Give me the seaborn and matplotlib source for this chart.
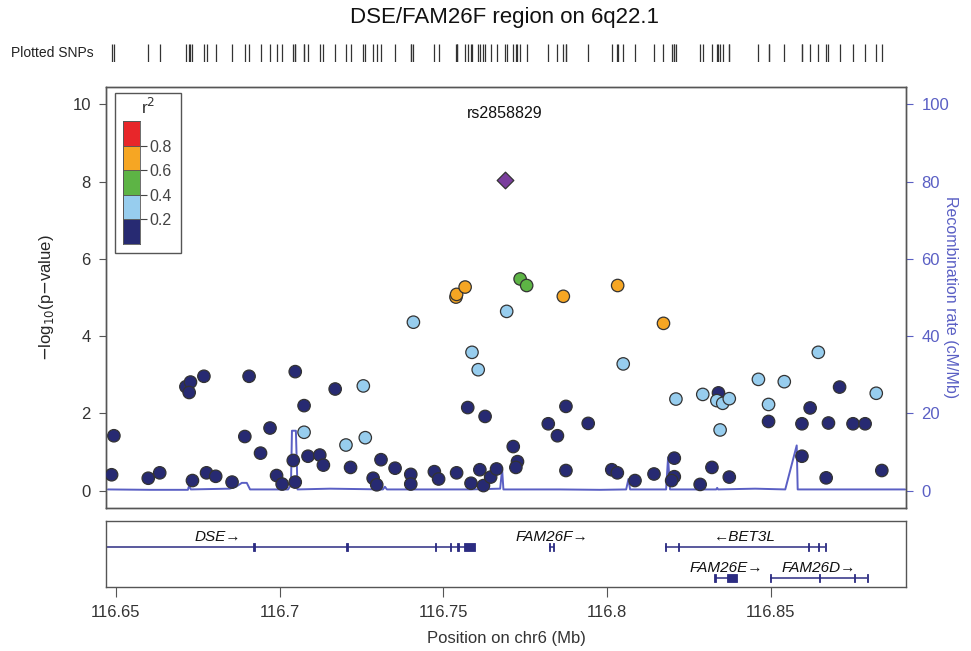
import numpy as np
import pandas as pd
import matplotlib
matplotlib.use('Agg')
import matplotlib.pyplot as plt
import seaborn as sns
from matplotlib.patches import Rectangle

sns.set_style('white')
plt.rcParams['font.family'] = ['Liberation Sans', 'DejaVu Sans']
plt.rcParams['axes.edgecolor'] = '#555555'

# ---- SNP association data (position in Mb, -log10 p, r2 bin) ----
snp_pos = [116.6494, 116.6487, 116.6599, 116.6634, 116.6714, 116.6728, 116.6724, 116.6769,
           116.6734, 116.6777, 116.6805, 116.6855, 116.6894, 116.6907, 116.6942, 116.6971,
           116.6991, 116.7008, 116.7042, 116.7048, 116.7048, 116.7075, 116.7075, 116.7087,
           116.7123, 116.7134, 116.7170, 116.7217, 116.7203, 116.7256, 116.7262, 116.7310,
           116.7286, 116.7297, 116.7353, 116.7409, 116.7401, 116.7401, 116.7473, 116.7486,
           116.7541, 116.7575, 116.7588, 116.7607, 116.7628, 116.7585, 116.7612, 116.7623,
           116.7645, 116.7663, 116.7539, 116.7541, 116.7567, 116.7735, 116.7755, 116.7867,
           116.8033, 116.7694, 116.8173, 116.8050, 116.8211, 116.8293, 116.8341, 116.8336,
           116.8354, 116.8374, 116.8346, 116.8463, 116.8494, 116.8542, 116.8646, 116.8823,
           116.8711, 116.8621, 116.8494, 116.8596, 116.8677, 116.8752, 116.8789, 116.8596,
           116.8670, 116.8840, 116.7875, 116.7821, 116.7849, 116.7943, 116.7714, 116.7727,
           116.7722, 116.7875, 116.8015, 116.8032, 116.8086, 116.8144, 116.8206, 116.8206,
           116.8198, 116.8285, 116.8321, 116.8374]
snp_logp = [1.42, 0.41, 0.32, 0.46, 2.69, 2.81, 2.54, 2.96,
            0.26, 0.46, 0.37, 0.22, 1.40, 2.96, 0.97, 1.62,
            0.39, 0.17, 0.78, 0.22, 3.08, 2.20, 1.51, 0.89,
            0.92, 0.66, 2.63, 0.60, 1.18, 2.71, 1.37, 0.80,
            0.32, 0.15, 0.58, 4.36, 0.42, 0.17, 0.49, 0.30,
            0.46, 2.15, 3.58, 3.13, 1.92, 0.19, 0.54, 0.13,
            0.35, 0.56, 5.01, 5.08, 5.27, 5.48, 5.31, 5.03,
            5.31, 4.64, 4.33, 3.28, 2.37, 2.49, 2.53, 2.33,
            2.26, 2.38, 1.57, 2.88, 2.23, 2.82, 3.58, 2.52,
            2.68, 2.14, 1.79, 1.73, 1.75, 1.73, 1.73, 0.89,
            0.33, 0.52, 2.18, 1.73, 1.42, 1.74, 1.14, 0.75,
            0.60, 0.52, 0.54, 0.46, 0.26, 0.43, 0.84, 0.36,
            0.26, 0.16, 0.60, 0.35]
snp_r2 = ['0.0', '0.0', '0.0', '0.0', '0.0', '0.0', '0.0', '0.0',
          '0.0', '0.0', '0.0', '0.0', '0.0', '0.0', '0.0', '0.0',
          '0.0', '0.0', '0.0', '0.0', '0.0', '0.0', '0.2', '0.0',
          '0.0', '0.0', '0.0', '0.0', '0.2', '0.2', '0.2', '0.0',
          '0.0', '0.0', '0.0', '0.2', '0.0', '0.0', '0.0', '0.0',
          '0.0', '0.0', '0.2', '0.2', '0.0', '0.0', '0.0', '0.0',
          '0.0', '0.0', '0.6', '0.6', '0.6', '0.4', '0.4', '0.6',
          '0.6', '0.2', '0.6', '0.2', '0.2', '0.2', '0.0', '0.2',
          '0.2', '0.2', '0.2', '0.2', '0.2', '0.2', '0.2', '0.2',
          '0.0', '0.0', '0.0', '0.0', '0.0', '0.0', '0.0', '0.0',
          '0.0', '0.0', '0.0', '0.0', '0.0', '0.0', '0.0', '0.0',
          '0.0', '0.0', '0.0', '0.0', '0.0', '0.0', '0.0', '0.0',
          '0.0', '0.0', '0.0', '0.0']

lead_name = 'rs2858829'
lead_pos = 116.7689
lead_logp = 8.03

# ---- recombination rate (cM/Mb) ----
recomb_pos = [116.6476, 116.6604, 116.6720, 116.6724, 116.6729, 116.6848, 116.6867, 116.6885,
              116.6900, 116.6910, 116.7026, 116.7035, 116.7038, 116.7050, 116.7055, 116.7154,
              116.7316, 116.7322, 116.7328, 116.7582, 116.7674, 116.7680, 116.7684, 116.7857,
              116.7979, 116.8059, 116.8066, 116.8071, 116.8181, 116.8187, 116.8193, 116.8334,
              116.8337, 116.8340, 116.8453, 116.8545, 116.8580, 116.8583, 116.8651, 116.8911]
recomb_rate = [0.3, 0.2, 0.2, 1.3, 0.3, 0.5, 1.0, 2.0,
               2.0, 0.3, 0.3, 1.5, 15.5, 15.5, 0.3, 0.5,
               0.3, 1.0, 0.3, 0.3, 0.5, 5.5, 0.3, 0.3,
               0.2, 0.3, 3.0, 0.3, 0.3, 8.6, 0.3, 0.3,
               0.7, 0.3, 0.5, 0.3, 11.7, 0.3, 0.3, 0.3]

# ---- genes ----
gene_names = ['DSE', 'FAM26F', 'BET3L', 'FAM26E', 'FAM26D']
gene_start = [116.6025, 116.7824, 116.8178, 116.8329, 116.8499]
gene_end = [116.7597, 116.7838, 116.8667, 116.8399, 116.8796]
gene_strand = ['+', '+', '-', '+', '+']
gene_row = [0, 0, 0, 1, 1]
gene_exons = [
    [(116.6920, 116.6925), (116.7203, 116.7208), (116.7474, 116.7479), (116.7521, 116.7525),
     (116.7543, 116.7547), (116.7563, 116.7597)],
    [(116.7823, 116.7826), (116.7836, 116.7839)],
    [(116.8177, 116.8180), (116.8217, 116.8220), (116.8615, 116.8618), (116.8645, 116.8648),
     (116.8665, 116.8668)],
    [(116.8328, 116.8332), (116.8366, 116.8399)],
    [(116.8498, 116.8501), (116.8649, 116.8652), (116.8754, 116.8757), (116.8794, 116.8798)],
]

r2_order = ['0.0', '0.2', '0.4', '0.6', '0.8']
r2_colors = ['#272a72', '#97cdee', '#5db445', '#f6a623', '#e8262a']
lead_color = '#7a3e9d'
recomb_color = '#5a5fc4'
xlim = (116.647, 116.8914)

df = pd.DataFrame({'pos': snp_pos, 'logp': snp_logp, 'r2': snp_r2})
df['order'] = df['r2'].map({k: i for i, k in enumerate(r2_order)})
df = df.sort_values('order', kind='stable')

fig = plt.figure(figsize=(9.71, 6.51), dpi=100)
ax = fig.add_axes([0.1092, 0.2197, 0.8239, 0.6467])
axg = fig.add_axes([0.1092, 0.0983, 0.8239, 0.1014])
axr = fig.add_axes([0.1092, 0.9048, 0.8239, 0.0276])

# recombination rate on twin axis, behind the points
ax2 = ax.twinx()
sns.lineplot(x=recomb_pos, y=recomb_rate, ax=ax2, color=recomb_color, lw=1.4)
ax2.set_ylim(-4.5, 104.5)
ax2.set_yticks([0, 20, 40, 60, 80, 100])
ax2.tick_params(axis='y', colors=recomb_color, labelsize=12, length=5, direction='out',
                labelcolor=recomb_color, pad=6)
ax2.set_ylabel('Recombination rate (cM/Mb)', color=recomb_color, fontsize=11.5,
               rotation=270, labelpad=6)
ax2.yaxis.set_label_coords(1.065, 0.5)
ax.set_zorder(ax2.get_zorder() + 1)
ax.patch.set_visible(False)

sns.scatterplot(data=df, x='pos', y='logp', hue='r2', hue_order=r2_order,
                palette=dict(zip(r2_order, r2_colors)), s=80, edgecolor='#333333',
                linewidth=0.9, legend=False, ax=ax, zorder=3)
sns.scatterplot(x=[lead_pos], y=[lead_logp], marker='D', color=lead_color, s=72,
                edgecolor='#333333', linewidth=0.9, ax=ax, zorder=4)
ax.text(lead_pos, 9.77, lead_name, ha='center', va='center', fontsize=11.5, color='#111111')

ax.set_xlim(xlim)
ax.set_ylim(-0.45, 10.45)
ax.set_yticks([0, 2, 4, 6, 8, 10])
ax.set_xticks([])
ax.set_xlabel('')
ax.set_ylabel('$-$log$_{10}$(p$-$value)', fontsize=12, labelpad=12)
ax.tick_params(axis='y', labelsize=12, length=5, direction='out', left=True, colors='#555555',
               labelcolor='#333333', pad=6)
for a in (ax, ax2):
    for s in a.spines.values():
        s.set_color('#555555')
        s.set_linewidth(1.0)

# r2 legend box
ax.add_patch(Rectangle((0.1184, 0.6114), 0.068, 0.2457, transform=fig.transFigure,
                       facecolor='white', edgecolor='#555555', lw=1.0, zorder=10))
fig.text(0.1524, 1 - 107 / 651, 'r$^2$', ha='center', va='center', fontsize=12.5,
         color='#333333', zorder=12)
axl = fig.add_axes([0.1267, 0.6252, 0.0175, 0.1889])
axl.set_zorder(ax.get_zorder() + 1)
for i, c in enumerate(r2_colors):
    axl.add_patch(Rectangle((0, i * 0.2), 1, 0.2, facecolor=c, edgecolor='#555555', lw=0.6))
axl.set_xlim(0, 1)
axl.set_ylim(0, 1)
axl.set_xticks([])
axl.set_yticks([0.2, 0.4, 0.6, 0.8])
axl.set_yticklabels(['0.2', '0.4', '0.6', '0.8'])
axl.yaxis.tick_right()
axl.tick_params(axis='y', length=5, direction='out', labelsize=11.5, colors='#444444', pad=2)
for s in axl.spines.values():
    s.set_color('#555555')
    s.set_linewidth(0.6)

# plotted SNPs rug
axr.vlines(list(snp_pos) + [lead_pos], 0, 1, color='#333333', lw=0.9)
axr.set_xlim(xlim)
axr.set_ylim(0, 1)
axr.axis('off')
fig.text(0.011, 0.918, 'Plotted SNPs', ha='left', va='center', fontsize=10, color='#222222')

# gene track
row_line = [0.606, 0.136]
row_label = [0.758, 0.288]
gene_color = '#2c2c82'
for name, st, en, strand, row, exons in zip(gene_names, gene_start, gene_end, gene_strand,
                                             gene_row, gene_exons):
    y = row_line[row]
    axg.plot([st, en], [y, y], color=gene_color, lw=1.1, solid_capstyle='butt')
    for es, ee in exons:
        axg.add_patch(Rectangle((es, y - 0.06), ee - es, 0.12, facecolor=gene_color,
                                edgecolor=gene_color, lw=0.6))
    label = name + '\u2192' if strand == '+' else '\u2190' + name
    axg.text((st + en) / 2, row_label[row], label, ha='center', va='center', fontsize=11,
             fontstyle='italic', color='#111111')
axg.set_xlim(xlim)
axg.set_ylim(0, 1)
axg.set_yticks([])
axg.set_xticks([116.65, 116.7, 116.75, 116.8, 116.85])
axg.set_xticklabels(['116.65', '116.7', '116.75', '116.8', '116.85'])
axg.tick_params(axis='x', labelsize=12, length=7, direction='out', bottom=True,
                colors='#555555', labelcolor='#333333', pad=6)
axg.set_xlabel('Position on chr6 (Mb)', fontsize=12, color='#333333', labelpad=8)
for s in axg.spines.values():
    s.set_color('#555555')
    s.set_linewidth(1.0)

fig.text(0.52, 1 - 18 / 651, 'DSE/FAM26F region on 6q22.1', ha='center', va='center',
         fontsize=16, color='#111111')

fig.savefig('out.png', dpi=100)
